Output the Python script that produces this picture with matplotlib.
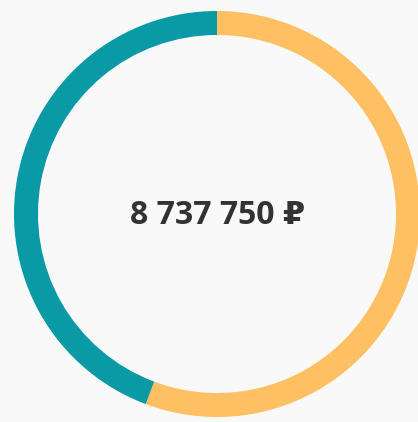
import matplotlib
matplotlib.use("Agg")
import matplotlib.pyplot as plt

labels = ["Orange", "Teal"]
values = [4867750, 3870000]
colors = ["#ffbf63", "#0a9aa5"]
total_label = "8 737 750 ₽"

W, H = 418, 422
fig = plt.figure(figsize=(W / 100, H / 100), dpi=100, facecolor="#f9f9f9")
ax = fig.add_axes([0, 0, 1, 1])
ax.set_facecolor("#f9f9f9")

cx, cy = 217, H - 214
R = 203
ax.pie(values, colors=colors, startangle=90, counterclock=False,
       radius=R, center=(cx, cy),
       wedgeprops=dict(width=24, edgecolor="none", linewidth=0))
ax.text(cx + 1, cy - 2, total_label, ha="center", va="center",
        fontsize=23, fontweight="bold", color="#333333",
        family=["Open Sans", "DejaVu Sans"])
ax.set_xlim(0, W)
ax.set_ylim(0, H)
ax.set_aspect("equal")
ax.axis("off")
fig.savefig("out.png", dpi=100, facecolor=fig.get_facecolor())
